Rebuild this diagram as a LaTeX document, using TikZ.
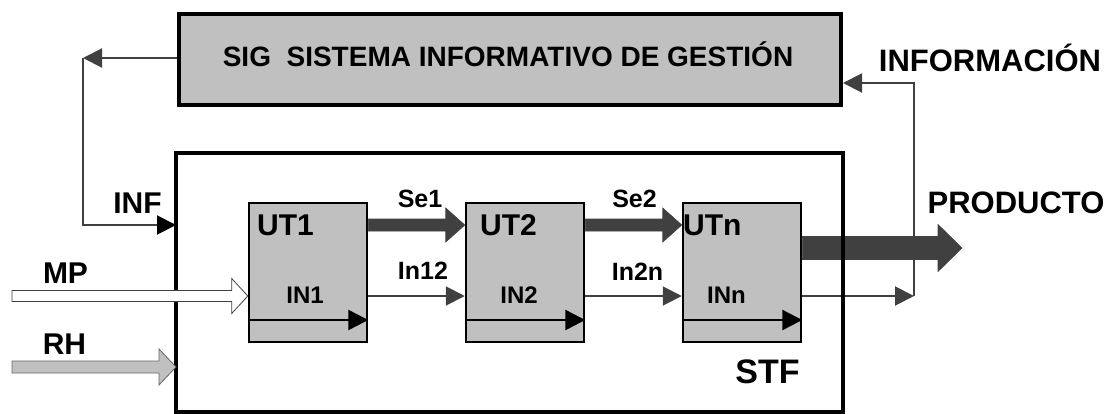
\documentclass[tikz,border=0pt]{standalone}
\usepackage{fontspec}
\setmainfont{Liberation Sans}
\usetikzlibrary{arrows.meta, calc, positioning}
\definecolor{boxgray}{HTML}{C0C0C0}
\definecolor{flowgray}{HTML}{404040}
\tikzstyle{system}=[line width=4pt, inner sep=0pt]
\tikzstyle{unit}=[draw, line width=2.5pt, fill=boxgray, minimum width=118pt, minimum height=139pt]
\tikzstyle{flow}=[draw=flowgray, line width=2pt, -{Triangle[length=19pt,width=19pt]}]
\tikzstyle{track}=[draw=black, line width=2.5pt, -{Triangle[length=20pt,width=20pt]}]
\tikzstyle{darkflow}=[fill=flowgray, draw=flowgray, line width=0.6pt]
\tikzstyle{mpflow}=[fill=white, draw=flowgray, line width=0.8pt]
\tikzstyle{rhflow}=[fill=boxgray, draw=flowgray!80, line width=0.8pt]
\tikzstyle{tag}=[anchor=base, inner sep=0pt, font=\bfseries\fontsize{30}{30}\selectfont]
% block arrow: [style]{from}{to}{shaft half}{head half}{head length}
\newcommand{\blockarrow}[6][]{%
  \draw[#1] ($(#2)+(0,-#4)$) -- ($(#3)+(-#6,-#4)$) -- ($(#3)+(-#6,-#5)$) -- (#3)
    -- ($(#3)+(-#6,#5)$) -- ($(#3)+(-#6,#4)$) -- ($(#2)+(0,#4)$) -- cycle;}

\begin{document}
\begin{tikzpicture}[x=1pt, y=-1pt]
  \useasboundingbox (0,0) rectangle (1116,413);
  % levels of the flows
  \coordinate (sigLev) at (0,58);
  \coordinate (infoLev) at (0,83);
  \coordinate (infLev) at (0,225);
  \coordinate (seLev) at (0,225);
  \coordinate (prodLev) at (0,248);
  \coordinate (inLev) at (0,296);
  \coordinate (trackLev) at (0,320);

  \node[system, fill=white, minimum width=663pt, minimum height=255pt] (STF) at (509.5,282.5) {};
  \node[system, draw, fill=boxgray, minimum width=662pt, minimum height=91pt] (SIG) at (510,59.5) {};
  \node[unit] (UT1) at (308,272.5) {};
  \node[unit] (UT2) [right=96.5pt of UT1] {};
  \node[unit] (UTn) [right=96.5pt of UT2] {};

  \coordinate (se1a) at (UT1.east |- seLev);
  \coordinate (se1b) at (UT2.west |- seLev);
  \coordinate (se2a) at (UT2.east |- seLev);
  \coordinate (se2b) at (UTn.west |- seLev);
  \coordinate (prodStart) at (UTn.east |- prodLev);
  \coordinate (prodTip) at (962,248);
  \blockarrow[darkflow]{se1a}{se1b}{6}{17}{19}
  \blockarrow[darkflow]{se2a}{se2b}{6}{17}{19}
  \blockarrow[darkflow]{prodStart}{prodTip}{11.5}{23.5}{24}

  % information flows
  \coordinate (infCorner) at (83,58);
  \coordinate (infoCorner) at (914,296);
  \draw[flow] (SIG.west |- sigLev) -- (infCorner);
  \draw[flow, -{Triangle[length=19pt,width=19pt,color=black]}] (infCorner) |- (STF.west |- infLev);
  \draw[flow] (UT1.east |- inLev) -- (UT2.west |- inLev);
  \draw[flow] (UT2.east |- inLev) -- (UTn.west |- inLev);
  \draw[flow] (UTn.east |- inLev) -- (infoCorner);
  \draw[flow] (infoCorner) |- (SIG.east |- infoLev);
  \foreach \u in {UT1,UT2,UTn}
    \draw[track] (\u.west |- trackLev) -- (\u.east |- trackLev);

  \draw[system] (STF.north west) rectangle (STF.south east);

  % inputs
  \coordinate (mpStart) at (12,296);
  \coordinate (mpEnd) at (UT1.west |- mpStart);
  \coordinate (rhStart) at (12,367);
  \coordinate (rhEnd) at (STF.west |- rhStart);
  \blockarrow[mpflow]{mpStart}{mpEnd}{5.5}{17.5}{16}
  \blockarrow[rhflow]{rhStart}{rhEnd}{6}{18}{17}

  % labels
  \node[tag, font=\bfseries\fontsize{28}{28}\selectfont] (sigText) at (508,66) {SIG~~SISTEMA INFORMATIVO DE GESTIÓN};
  \node[tag, font=\bfseries\fontsize{31}{31}\selectfont] (infoText) at (990,71) {INFORMACIÓN};
  \node[tag, font=\bfseries\fontsize{31}{31}\selectfont] (prodText) at (1016,213) {PRODUCTO};
  \node[tag, font=\bfseries\fontsize{34}{34}\selectfont] (stfText) at (767.5,383) {STF};
  \node[tag] (infText) at (137.5,213) {INF};
  \node[tag] (mpText) at (65.5,283) {MP};
  \node[tag] (rhText) at (64.5,354) {RH};
  \node[tag, anchor=base west] (ut1Text) at (257,235) {UT1};
  \node[tag, anchor=base west] (ut2Text) at (480,235) {UT2};
  \node[tag, anchor=base west] (utnText) at (683,235) {UTn};
  \node[tag, font=\bfseries\fontsize{24}{24}\selectfont] (in1Text) at (305,303) {IN1};
  \node[tag, font=\bfseries\fontsize{24}{24}\selectfont] (in2Text) at (519,303) {IN2};
  \node[tag, font=\bfseries\fontsize{24}{24}\selectfont] (innText) at (726.5,303) {INn};
  \node[tag, font=\bfseries\fontsize{25}{25}\selectfont] (se1Text) at (420,207) {Se1};
  \node[tag, font=\bfseries\fontsize{25}{25}\selectfont] (in12Text) at (423,279) {In12};
  \node[tag, font=\bfseries\fontsize{25}{25}\selectfont] (se2Text) at (634.5,207) {Se2};
  \node[tag, font=\bfseries\fontsize{25}{25}\selectfont] (in2nText) at (637.5,280) {In2n};
\end{tikzpicture}
\end{document}
